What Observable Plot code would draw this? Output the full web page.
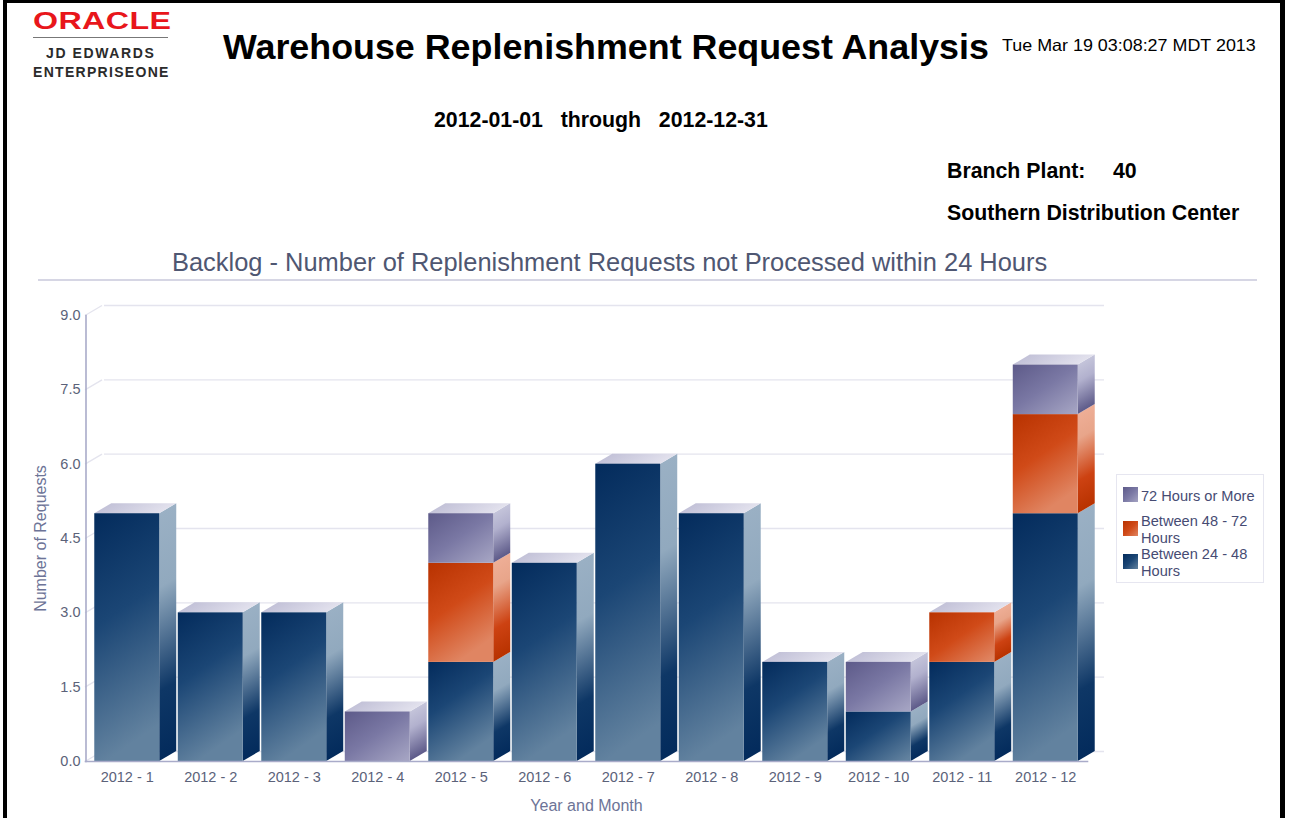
<!DOCTYPE html>
<html><head><meta charset="utf-8">
<script src="https://cdn.jsdelivr.net/npm/d3@7"></script>
<script src="https://cdn.jsdelivr.net/npm/@observablehq/plot@0.6"></script>
<style>
html,body{margin:0;padding:0;background:#fff;overflow:hidden}
body{width:1293px;height:818px;position:relative;font-family:"Liberation Sans",Arial,sans-serif}
.t{position:absolute;white-space:pre;line-height:1;color:#000}
.b{font-weight:bold}
.bar{position:absolute;background:#000}
#chart{position:absolute;left:0;top:290px}
#chart svg{display:block;background:transparent}
#chart [aria-label="y-axis label"],#chart [aria-label="x-axis label"]{fill:#6d7497;font-size:16px}
#legend{position:absolute;left:1116px;top:474px;width:146px;height:107px;border:1px solid #e6e6f0;background:#fff;font-size:14.6px;line-height:16.5px;color:#464b73}
.li{position:absolute;left:24px;width:120px}
.sw{position:absolute;left:6px;width:15px;height:15px}
</style></head><body>
<div class="bar" style="left:3px;top:0;width:4px;height:818px"></div>
<div class="bar" style="left:1280px;top:0;width:5px;height:818px"></div>
<div class="bar" style="left:3px;top:0;width:1282px;height:3px"></div>
<div class="t" style="left:33px;top:10px;color:#e8161b;font-size:23.5px;font-weight:bold;transform:scaleX(1.37);transform-origin:left top;letter-spacing:.3px" id="logo">ORACLE</div>
<div style="position:absolute;left:33px;top:37px;width:135px;height:1px;background:#777"></div>
<div class="t b" style="left:46px;top:46px;font-size:14px;color:#2b2b2b;letter-spacing:1.6px">JD EDWARDS</div>
<div class="t b" style="left:33px;top:65px;font-size:14px;color:#2b2b2b;letter-spacing:1.3px">ENTERPRISEONE</div>
<div class="t b" style="left:223px;top:30px;font-size:35.85px" id="title">Warehouse Replenishment Request Analysis</div>
<div class="t" style="left:1002px;top:37px;font-size:16.5px;transform:scaleX(1.085);transform-origin:left top">Tue Mar 19 03:08:27 MDT 2013</div>
<div class="t b" style="left:434px;top:110px;font-size:21.3px">2012-01-01   through   2012-12-31</div>
<div class="t b" style="left:947px;top:161px;font-size:21.3px">Branch Plant:</div>
<div class="t b" style="left:1113px;top:161px;font-size:21.3px">40</div>
<div class="t b" style="left:947px;top:203px;font-size:21.3px">Southern Distribution Center</div>
<div class="t" style="left:172px;top:250px;font-size:25.45px;color:#4f5772">Backlog - Number of Replenishment Requests not Processed within 24 Hours</div>
<div style="position:absolute;left:38px;top:279px;width:1219px;height:2px;background:#d6d6e4"></div>
<div id="chart"></div>
<div id="legend"></div>
<script>
const months = ["2012 - 1","2012 - 2","2012 - 3","2012 - 4","2012 - 5","2012 - 6","2012 - 7","2012 - 8","2012 - 9","2012 - 10","2012 - 11","2012 - 12"];
const series = ["Between 24 - 48 Hours","Between 48 - 72 Hours","72 Hours or More"];
const between24to48 = [5,3,3,0,2,4,6,5,2,1,2,5];
const between48to72 = [0,0,0,0,2,0,0,0,0,0,1,2];
const hours72plus   = [0,0,0,1,1,0,0,0,0,1,0,1];
const yTicks = [0,1.5,3,4.5,6,7.5,9];
const seriesColors = ["#17426f","#d0481a","#77759f"];
const frontStops = [
  [["0","#032b5c"],["0.45","#1b4675"],["1","#62829f"]],
  [["0","#b83200"],["0.5","#d04a18"],["1","#e08562"]],
  [["0","#5d5a89"],["0.5","#7a78a4"],["1","#a4a3c2"]]
];
const sideStops = [
  [["0","#9ab0c4"],["0.3","#91a9be"],["0.72","#0e3766"],["1","#032b5c"]],
  [["0","#eeae96"],["0.25","#e8a58a"],["0.68","#cd4212"],["1","#b83200"]],
  [["0","#c4c4da"],["0.35","#b2b1ce"],["1","#5d5a89"]]
];
const topStops = [["0","#c3c2d8"],["1","#e2e1ed"]];
const depthX = 17, depthY = 10;

const rows = [];
months.forEach((m,i)=>{
  let base = 0;
  [between24to48,between48to72,hours72plus].forEach((vals,s)=>{
    if (vals[i] > 0) rows.push({month:m, series:series[s], s, y1:base, y2:base+vals[i]});
    base += vals[i];
  });
});
const tops = months.map(m=>rows.filter(r=>r.month===m).at(-1));

let gid = 0;
function gradient(parent, stops, x2, y2){
  const id = "g"+(gid++);
  const defs = parent.querySelector("defs") || parent.insertBefore(document.createElementNS("http://www.w3.org/2000/svg","defs"), parent.firstChild);
  const lg = d3.select(defs).append("linearGradient").attr("id",id).attr("x1",0).attr("y1",0).attr("x2",x2).attr("y2",y2);
  for (const [o,c] of stops) lg.append("stop").attr("offset",o).attr("stop-color",c);
  return "url(#"+id+")";
}
const rectsOf = (g)=>Array.from(g.querySelectorAll("rect"));
function frontRender(index, scales, values, dims, ctx, next){
  const g = next(index, scales, values, dims, ctx);
  rectsOf(g).forEach((r,k)=>{
    const h = +r.getAttribute("height");
    r.setAttribute("fill", gradient(g, frontStops[rows[index[k]].s], Math.min(1,45/h), 1));
  });
  return g;
}
function sideRender(index, scales, values, dims, ctx, next){
  const g = next(index, scales, values, dims, ctx);
  const a = Math.atan(depthY/depthX)*180/Math.PI;
  rectsOf(g).forEach((r,k)=>{
    const x=+r.getAttribute("x"), y=+r.getAttribute("y"), w=+r.getAttribute("width");
    r.setAttribute("x",0); r.setAttribute("y",0); r.setAttribute("width",depthX);
    r.setAttribute("transform",`translate(${x+w},${y}) skewY(${-a})`);
    r.setAttribute("fill", gradient(g, sideStops[rows[index[k]].s], 0, 1));
  });
  return g;
}
function topRender(index, scales, values, dims, ctx, next){
  const g = next(index, scales, values, dims, ctx);
  const a = Math.atan(depthX/depthY)*180/Math.PI;
  const fill = gradient(g, topStops, 1, 0);
  rectsOf(g).forEach(r=>{
    const x=+r.getAttribute("x"), y=+r.getAttribute("y");
    r.setAttribute("x",0); r.setAttribute("y",0); r.setAttribute("height",depthY);
    r.setAttribute("transform",`translate(${x+depthX},${y-depthY}) skewX(${-a})`);
    r.setAttribute("fill", fill);
  });
  return g;
}
function wallRender(index, scales, values, dims, ctx, next){
  const g = next(index, scales, values, dims, ctx);
  g.querySelectorAll("line").forEach(l=>{
    const x=+l.getAttribute("x1"), y=+l.getAttribute("y1");
    l.setAttribute("x2",x+depthX); l.setAttribute("y2",y-depthY);
  });
  return g;
}

const plot = Plot.plot({
  width:1293, height:528,
  marginLeft:85, marginRight:206, marginTop:25, marginBottom:57,
  style:{background:"transparent",fontFamily:'"Liberation Sans",Arial,sans-serif',fontSize:"14.5px",color:"#5b6279"},
  x:{domain:months, paddingInner:.222, paddingOuter:.111, round:false, label:null},
  y:{domain:[0,9], label:null},
  color:{domain:series, range:seriesColors},
  marks:[
    Plot.ruleY(yTicks,{stroke:"#e4e4ee",strokeWidth:1.4,dx:depthX,dy:-depthY,insetLeft:2}),
    Plot.ruleY(yTicks,{stroke:"#e4e4ee",strokeWidth:1.4,render:wallRender}),
    Plot.barY(rows,{x:"month",y1:"y1",y2:"y2",fill:"series",render:sideRender}),
    Plot.barY(tops,{x:"month",y1:"y1",y2:"y2",fill:"series",render:topRender}),
    Plot.barY(rows,{x:"month",y1:"y1",y2:"y2",fill:"series",render:frontRender}),
    Plot.frame({anchor:"left",stroke:"#a9abc9",strokeWidth:1.6,dx:.5}),
    Plot.frame({anchor:"bottom",stroke:"#a9abc9",strokeWidth:1.6}),
    Plot.axisY({ticks:yTicks,tickFormat:d3.format(".1f"),tickSize:0,tickPadding:5,label:"Number of Requests",labelAnchor:"center",labelOffset:51,labelArrow:"none"}),
    Plot.axisX({tickSize:0,tickPadding:10,label:"Year and Month",labelAnchor:"center",labelOffset:49,labelArrow:"none"})
  ]
});
document.getElementById("chart").appendChild(plot);

// legend, in the reference's order
const legendRows = [
  {s:2, top:13, sw:12, text:"72 Hours or More"},
  {s:1, top:38, sw:46, text:"Between 48 - 72\nHours"},
  {s:0, top:71, sw:79, text:"Between 24 - 48\nHours"}
];
const legend = d3.select("#legend");
legendRows.forEach(r=>{
  const st = frontStops[r.s];
  legend.append("div").attr("class","sw").style("top",r.sw+"px")
    .style("background",`linear-gradient(135deg,${st[0][1]},${st[1][1]},${st[2][1]})`);
  legend.append("div").attr("class","li").style("top",r.top+"px").style("white-space","pre").text(r.text);
});
</script>
</body></html>
